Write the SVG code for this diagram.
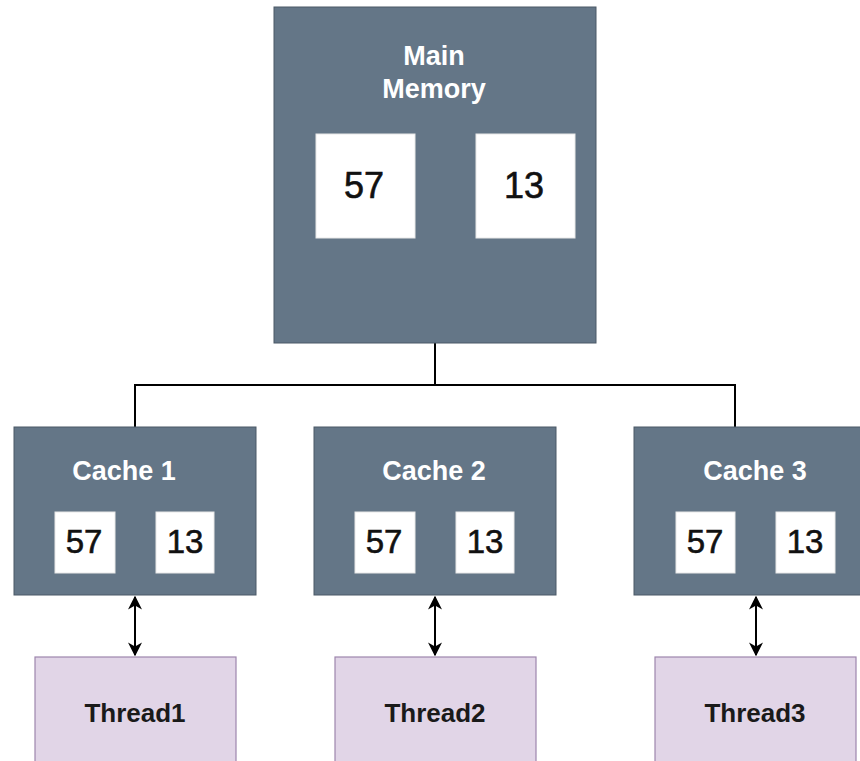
<svg xmlns="http://www.w3.org/2000/svg" width="860" height="761" viewBox="0 0 860 761">
<style>
.box{fill:#647687;stroke:#4a5866;stroke-width:1}
.cell{fill:#ffffff;stroke:#e8e8e8;stroke-width:1}
.thr{fill:#e1d5e7;stroke:#9d86ad;stroke-width:1.2}
.ttl{font-family:"Liberation Sans",Arial,sans-serif;font-weight:bold;fill:#ffffff;text-anchor:middle;font-size:27px}
.num{font-family:"Liberation Sans",Arial,sans-serif;fill:#111111;text-anchor:middle;stroke:#111111;stroke-width:0.6}
.tt{font-family:"Liberation Sans",Arial,sans-serif;font-weight:bold;fill:#1a1a1a;text-anchor:middle;font-size:26px}
.ln{fill:none;stroke:#000000;stroke-width:2}
.ar{fill:none;stroke:#000000;stroke-width:2;marker-start:url(#ah);marker-end:url(#ah)}
</style>
<defs>
<marker id="ah" viewBox="0 0 10 10" refX="9" refY="5" markerWidth="7" markerHeight="7" orient="auto-start-reverse" markerUnits="strokeWidth">
<path d="M0,0 L10,5 L0,10 L3,5 Z" fill="#000000"/>
</marker>
</defs>
<rect width="860" height="761" fill="#ffffff"/>
<g id="connectors">
<path class="ln" d="M435,343 V385 M135,427 V385 H735 V427"/>
<path class="ar" d="M135,597 V655"/>
<path class="ar" d="M435,597 V655"/>
<path class="ar" d="M756,597 V655"/>
</g>
<g id="main-memory">
<rect class="box" x="274" y="7" width="322" height="336"/>
<text class="ttl" x="434" y="65">Main</text>
<text class="ttl" x="434" y="98">Memory</text>
<rect class="cell" x="316" y="134" width="99" height="104"/>
<rect class="cell" x="476" y="134" width="99" height="104"/>
<text class="num" x="364" y="198" font-size="36">57</text>
<text class="num" x="524" y="198" font-size="36">13</text>
</g>
<g id="cache1">
<rect class="box" x="14" y="427" width="242" height="168"/>
<text class="ttl" x="124" y="480">Cache 1</text>
<rect class="cell" x="55" y="512" width="60" height="61"/>
<rect class="cell" x="156" y="512" width="58" height="61"/>
<text class="num" x="84" y="553" font-size="33">57</text>
<text class="num" x="185" y="553" font-size="33">13</text>
</g>
<g id="cache2">
<rect class="box" x="314" y="427" width="242" height="168"/>
<text class="ttl" x="434" y="480">Cache 2</text>
<rect class="cell" x="355" y="512" width="60" height="61"/>
<rect class="cell" x="456" y="512" width="58" height="61"/>
<text class="num" x="384" y="553" font-size="33">57</text>
<text class="num" x="485" y="553" font-size="33">13</text>
</g>
<g id="cache3">
<rect class="box" x="634" y="427" width="242" height="168"/>
<text class="ttl" x="755" y="480">Cache 3</text>
<rect class="cell" x="676" y="512" width="59" height="61"/>
<rect class="cell" x="776" y="512" width="59" height="61"/>
<text class="num" x="705" y="553" font-size="33">57</text>
<text class="num" x="805" y="553" font-size="33">13</text>
</g>
<g id="thread1">
<rect class="thr" x="35" y="657" width="201" height="120"/>
<text class="tt" x="135" y="722">Thread1</text>
</g>
<g id="thread2">
<rect class="thr" x="335" y="657" width="201" height="120"/>
<text class="tt" x="435" y="722">Thread2</text>
</g>
<g id="thread3">
<rect class="thr" x="655" y="657" width="201" height="120"/>
<text class="tt" x="755" y="722">Thread3</text>
</g>
</svg>
